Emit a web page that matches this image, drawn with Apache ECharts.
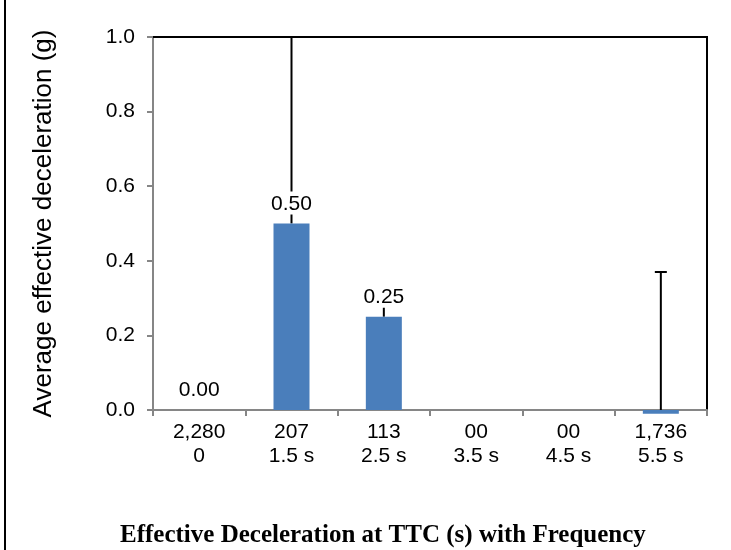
<!DOCTYPE html>
<html>
<head>
    <meta charset="utf-8">
    <script src="https://cdn.jsdelivr.net/npm/echarts@6/dist/echarts.min.js"></script>
    <style>
        html, body { margin: 0; padding: 0; background: #fff; }
    </style>
</head>
<body>
    <div id="main" style="width: 731px;height:550px;"></div>
    <script type="text/javascript">
        // 类别：频数 + TTC
        var frequency = ['2,280', '207', '113', '00', '00', '1,736'];
        var ttc = ['0', '1.5 s', '2.5 s', '3.5 s', '4.5 s', '5.5 s'];
        // 平均有效减速度 (g)
        var decel = [0, 0.50, 0.25, null, null, -0.01];
        // 误差线上端
        var errHigh = [null, 1.2, 0.28, null, null, 0.37];
        var yTicks = [0, 0.2, 0.4, 0.6, 0.8, 1.0];

        var categories = frequency.map(function (f, i) { return f + '\n' + ttc[i]; });

        var barData = decel.map(function (v) {
            return {
                value: v,
                label: { show: v !== null && v >= 0 }
            };
        });

        var errData = [];
        decel.forEach(function (v, i) {
            if (v !== null && errHigh[i] !== null) {
                errData.push([i, Math.max(v, 0), errHigh[i]]);
            }
        });

        var font = 'Liberation Sans, Arial, sans-serif';
        var axisGrey = '#868686';

        var myChart = echarts.init(document.getElementById('main'));
        myChart.setOption({
            animation: false,
            backgroundColor: '#fff',
            title: {
                text: 'Effective Deceleration at TTC (s) with Frequency',
                left: 115,
                top: 518,
                textStyle: {
                    fontFamily: 'Liberation Serif, Times New Roman, serif',
                    fontWeight: 'bold',
                    fontSize: 25,
                    color: '#000'
                }
            },
            graphic: [{
                type: 'rect',
                shape: { x: 4, y: 0, width: 2, height: 550 },
                style: { fill: '#000' }
            }, {
                // 绘图区上边框
                type: 'rect',
                shape: { x: 153, y: 36, width: 555, height: 2 },
                style: { fill: '#000' },
                z: 10
            }],
            grid: { left: 153, right: 24, top: 37, bottom: 140 },
            xAxis: [{
                type: 'category',
                data: categories,
                axisLine: { lineStyle: { color: axisGrey, width: 2 } },
                axisTick: { show: true, length: 6, lineStyle: { color: axisGrey, width: 2 } },
                axisLabel: {
                    color: '#000',
                    fontFamily: font,
                    fontSize: 21,
                    lineHeight: 24,
                    margin: 10
                }
            }],
            yAxis: [{
                type: 'value',
                min: yTicks[0],
                max: yTicks[yTicks.length - 1],
                interval: 0.2,
                name: 'Average effective deceleration (g)',
                nameLocation: 'middle',
                nameGap: 96,
                nameTextStyle: { color: '#000', fontFamily: font, fontSize: 26 },
                axisLine: { show: true, lineStyle: { color: axisGrey, width: 2 } },
                axisTick: { show: true, length: 6, lineStyle: { color: axisGrey, width: 2 } },
                splitLine: { show: false },
                axisLabel: {
                    color: '#000',
                    fontFamily: font,
                    fontSize: 21,
                    margin: 18,
                    formatter: function (v) { return v.toFixed(1); }
                }
            }, {
                type: 'value',
                position: 'right',
                min: yTicks[0],
                max: yTicks[yTicks.length - 1],
                interval: 0.2,
                axisLine: { show: true, lineStyle: { color: '#000', width: 2 } },
                axisTick: { show: false },
                axisLabel: { show: false },
                splitLine: { show: false }
            }],
            series: [{
                type: 'custom',
                z: 1,
                data: errData,
                renderItem: function (params, api) {
                    var x = api.value(0);
                    var lo = api.coord([x, api.value(1)]);
                    var hi = api.coord([x, api.value(2)]);
                    var top = params.coordSys.y;
                    var clipped = hi[1] < top;
                    var yHi = clipped ? top : hi[1];
                    var children = [{
                        type: 'line',
                        shape: { x1: lo[0], y1: lo[1], x2: hi[0], y2: yHi },
                        style: { stroke: '#000', lineWidth: 2 }
                    }];
                    if (!clipped) {
                        children.push({
                            type: 'line',
                            shape: { x1: hi[0] - 6, y1: yHi, x2: hi[0] + 6, y2: yHi },
                            style: { stroke: '#000', lineWidth: 2 }
                        });
                    }
                    return { type: 'group', children: children };
                }
            }, {
                type: 'bar',
                z: 2,
                clip: false,
                data: barData,
                barWidth: 36,
                itemStyle: { color: '#4A7EBB' },
                label: {
                    position: 'top',
                    distance: 9,
                    color: '#000',
                    fontFamily: font,
                    fontSize: 21,
                    backgroundColor: '#fff',
                    padding: [2, 2, 0, 2],
                    formatter: function (p) { return p.value.toFixed(2); }
                }
            }]
        });
    </script>
</body>
</html>
